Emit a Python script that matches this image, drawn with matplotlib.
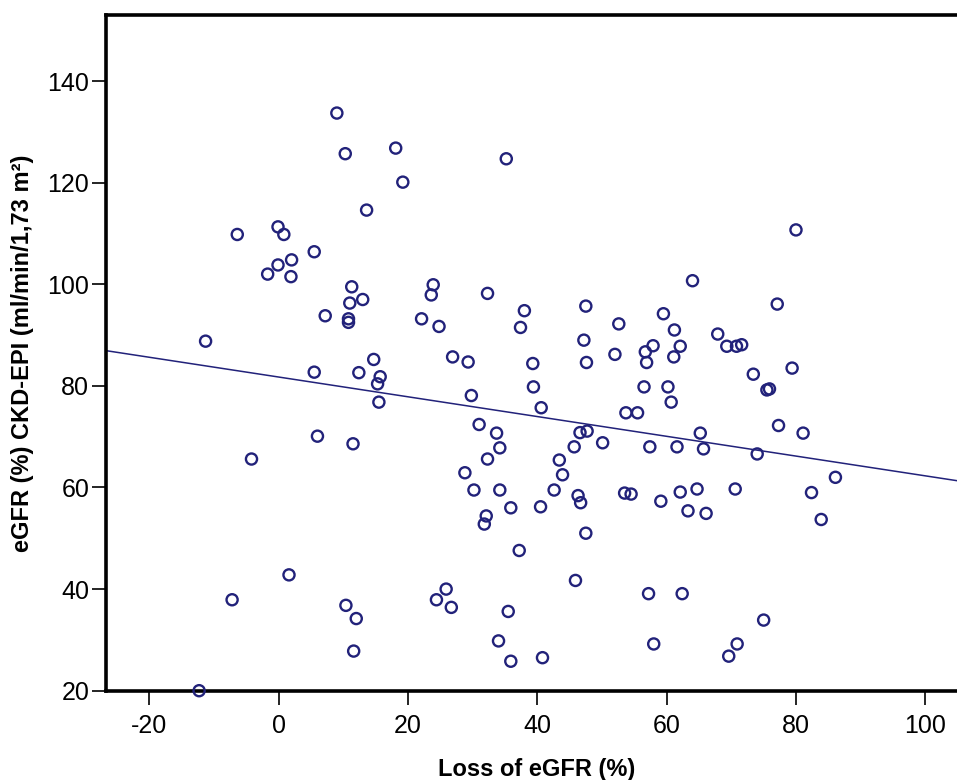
import matplotlib
matplotlib.use("Agg")
import matplotlib.pyplot as plt
import numpy as np

plt.rcParams['font.family'] = ['Liberation Sans', 'DejaVu Sans']
plt.rcParams['axes.unicode_minus'] = False

# Data: Loss of eGFR (%) vs eGFR (%) CKD-EPI
loss_egfr = [
    9.0, 10.3, 18.1, 35.2, 19.2, 13.6, 80.0, -6.4, -0.1, 0.8,
    5.5, -0.1, 2.0, -1.7, 1.9, 11.3, 13.0, 11.0, 7.2, 10.8,
    10.8, -11.3, 14.7, 5.5, 12.4, 15.7, 15.3, 15.5, 6.0, 11.5,
    -4.2, 23.9, 23.6, 32.3, 22.1, 24.8, 38.0, 37.4, 47.5, 52.6,
    47.2, 59.5, 61.2, 64.0, 57.9, 56.7, 62.1, 61.1, 56.9, 52.0,
    47.6, 39.3, 26.9, 29.3, 39.4, 56.5, 60.2, 60.7, 29.8, 40.6,
    53.7, 55.5, 31.0, 33.7, 34.2, 32.3, 28.8, 46.6, 47.7, 45.7,
    50.1, 57.4, 61.6, 43.4, 43.9, 77.1, 67.9, 69.3, 70.8, 71.6,
    73.4, 79.4, 75.5, 75.9, 77.3, 81.1, 65.2, 65.7, 74.0, 86.1,
    1.6, -7.2, 10.4, 12.0, 11.6, -12.3, 30.2, 34.2, 42.6, 46.3,
    46.7, 35.9, 40.5, 32.1, 31.8, 47.5, 37.2, 53.5, 54.5, 59.1,
    62.1, 63.3, 45.9, 25.9, 24.4, 26.7, 35.5, 34.0, 35.9, 40.8,
    57.2, 62.4, 58.0, 64.7, 66.1, 70.6, 82.4, 83.9, 75.0, 70.9,
    69.6,
]
egfr_ckd_epi = [
    133.7, 125.7, 126.8, 124.7, 120.1, 114.6, 110.7, 109.8, 111.3, 109.8,
    106.4, 103.8, 104.8, 102.0, 101.5, 99.5, 97.0, 96.3, 93.8, 93.2,
    92.5, 88.8, 85.2, 82.7, 82.6, 81.8, 80.4, 76.8, 70.1, 68.6,
    65.6, 99.9, 97.9, 98.2, 93.2, 91.7, 94.8, 91.5, 95.7, 92.2,
    89.0, 94.2, 91.0, 100.7, 87.9, 86.7, 87.8, 85.7, 84.6, 86.2,
    84.6, 84.4, 85.7, 84.7, 79.8, 79.8, 79.8, 76.8, 78.1, 75.7,
    74.7, 74.7, 72.4, 70.7, 67.8, 65.6, 62.9, 70.8, 71.1, 68.0,
    68.8, 68.0, 68.0, 65.4, 62.5, 96.1, 90.2, 87.8, 87.8, 88.1,
    82.3, 83.5, 79.2, 79.4, 72.2, 70.7, 70.7, 67.6, 66.6, 62.0,
    42.8, 37.9, 36.8, 34.2, 27.8, 20.0, 59.5, 59.5, 59.5, 58.4,
    57.0, 56.0, 56.2, 54.4, 52.8, 51.0, 47.6, 58.9, 58.7, 57.3,
    59.1, 55.4, 41.7, 40.0, 37.9, 36.4, 35.6, 29.8, 25.8, 26.5,
    39.1, 39.1, 29.2, 59.7, 54.9, 59.7, 59.0, 53.7, 33.9, 29.2,
    26.8,
]

# Fit line
fit_intercept = 81.74
fit_slope = -0.1945

x_ticks = [-20, 0, 20, 40, 60, 80, 100]
y_ticks = [20, 40, 60, 80, 100, 120, 140]

navy = '#22227a'

fig = plt.figure(figsize=(9.57, 7.8), dpi=100)
ax = fig.add_axes([106/957, 89.3/780, (968-106)/957, (765-89.3)/780])

xlim = (-26.7, 106.6)
ylim = (20, 153.0)

ax.scatter(loss_egfr, egfr_ckd_epi, s=64, facecolors='none', edgecolors=navy,
           linewidths=1.7, zorder=3, clip_on=False)

xl = np.array(xlim)
ax.plot(xl, fit_intercept + fit_slope * xl, color=navy, lw=1.1, zorder=2)

ax.set_xlim(*xlim)
ax.set_ylim(*ylim)
ax.set_xticks(x_ticks)
ax.set_yticks(y_ticks)

for side in ['left', 'bottom', 'top']:
    ax.spines[side].set_linewidth(2.6)
    ax.spines[side].set_color('black')
ax.spines['right'].set_visible(False)

ax.tick_params(axis='x', direction='out', length=10, width=1.2, labelsize=18,
               pad=7, top=False, colors='black')
ax.tick_params(axis='y', direction='out', length=10, width=1.2, labelsize=18,
               pad=2, right=False, colors='black')

ax.set_xlabel('Loss of eGFR (%)', fontsize=17, fontweight='bold', labelpad=14)
ax.set_ylabel('eGFR (%) CKD-EPI (ml/min/1,73 m²)', fontsize=17,
              fontweight='bold', labelpad=10)

fig.savefig('out.png', dpi=100)
